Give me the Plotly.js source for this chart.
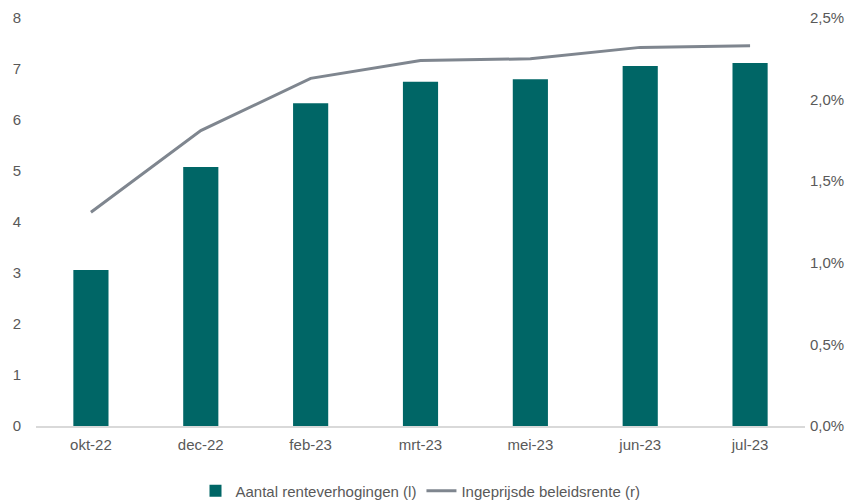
<!DOCTYPE html>
<html>
<head>
<meta charset="utf-8">
<script src="https://cdn.plot.ly/plotly-3.0.1.min.js"></script>
<style>html,body{margin:0;padding:0;background:#fff;}#chart{width:858px;height:500px;}</style>
</head>
<body>
<div id="chart"></div>
<script>
var categories = ["okt-22", "dec-22", "feb-23", "mrt-23", "mei-23", "jun-23", "jul-23"];
var renteverhogingen = [3.06, 5.08, 6.33, 6.75, 6.80, 7.06, 7.12];
var beleidsrente = [1.31, 1.81, 2.13, 2.24, 2.25, 2.32, 2.33];
var leftTicks = [0, 1, 2, 3, 4, 5, 6, 7, 8];
var rightTicks = [0, 0.5, 1.0, 1.5, 2.0, 2.5];
var rightTickLabels = ["0,0%", "0,5%", "1,0%", "1,5%", "2,0%", "2,5%"];

var traces = [
  {
    type: "bar",
    name: "Aantal renteverhogingen (l)",
    x: categories,
    y: renteverhogingen,
    marker: {color: "#006666"},
    width: 0.32,
    yaxis: "y"
  },
  {
    type: "scatter",
    mode: "lines",
    name: "Ingeprijsde beleidsrente (r)",
    x: categories,
    y: beleidsrente,
    line: {color: "#7f868f", width: 3},
    yaxis: "y2"
  }
];

var layout = {
  width: 858,
  height: 500,
  margin: {l: 36, r: 53, t: 18, b: 74, autoexpand: false},
  paper_bgcolor: "#fff",
  plot_bgcolor: "#fff",
  font: {family: "Liberation Sans, Arial, sans-serif", size: 15, color: "#595959"},
  showlegend: true,
  legend: {orientation: "h", x: 0.5, xanchor: "center", yref: "container", y: 0.018, yanchor: "middle", font: {size: 15, color: "#595959"}, itemwidth: 30, tracegroupgap: 0},
  xaxis: {
    type: "category",
    showgrid: false,
    showline: true,
    linecolor: "#d9d9d9",
    linewidth: 1.5,
    ticks: "",
    ticklabelstandoff: 4,
    tickfont: {size: 15, color: "#595959"},
    zeroline: false,
    automargin: false
  },
  yaxis: {
    range: [0, 8],
    tickvals: leftTicks,
    showgrid: false,
    zeroline: false,
    showline: false,
    ticks: "",
    ticklabelstandoff: 14,
    automargin: false,
    tickfont: {size: 15, color: "#595959"}
  },
  yaxis2: {
    overlaying: "y",
    side: "right",
    range: [0, 2.5],
    tickvals: rightTicks,
    ticktext: rightTickLabels,
    showgrid: false,
    zeroline: false,
    showline: false,
    ticks: "",
    ticklabelstandoff: 4,
    automargin: false,
    tickfont: {size: 15, color: "#595959"}
  },
  bargap: 0.68
};

Plotly.newPlot("chart", traces, layout, {displayModeBar: false, staticPlot: true});
</script>
</body>
</html>
